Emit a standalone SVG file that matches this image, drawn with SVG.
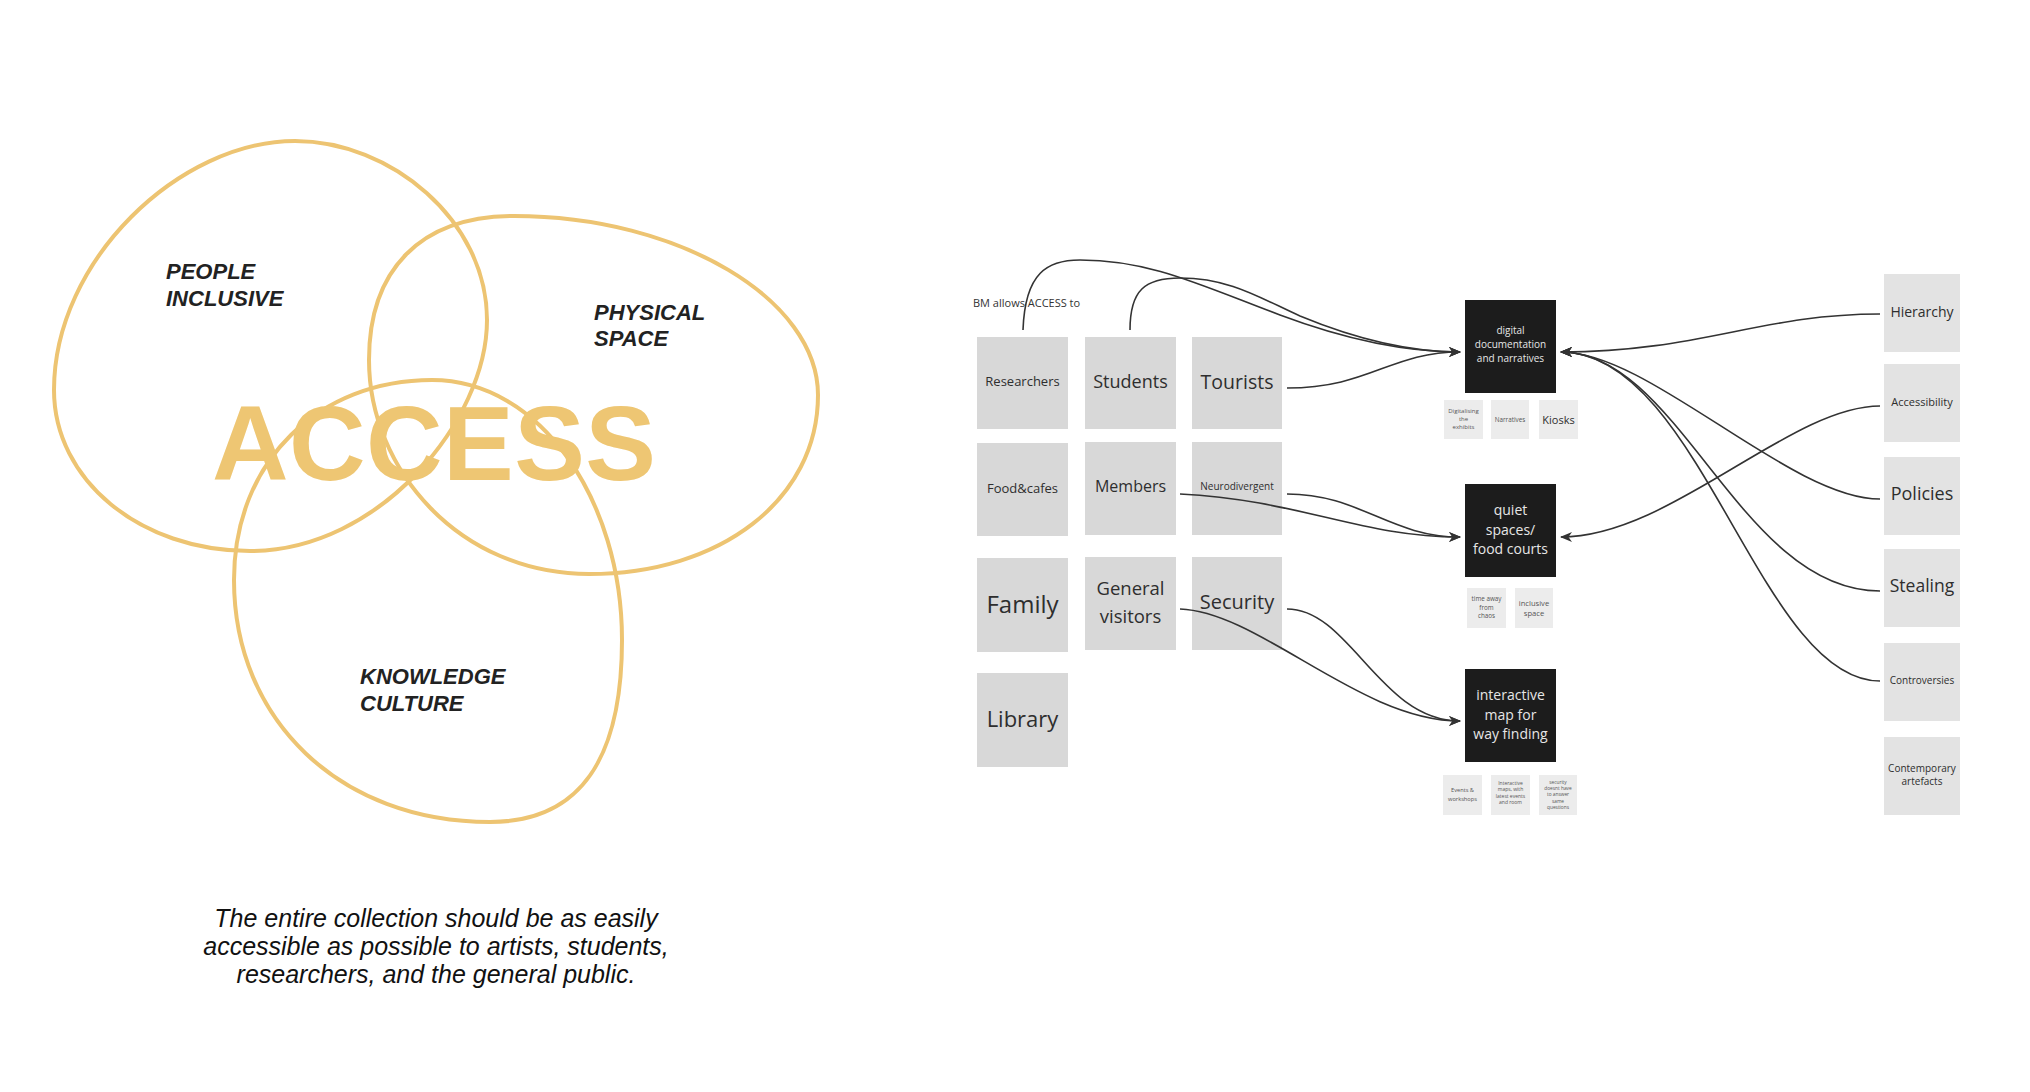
<svg xmlns="http://www.w3.org/2000/svg" width="2030" height="1092" viewBox="0 0 2030 1092">
<style>
.venn{fill:none;stroke:#EDC472;stroke-width:4}
.vl{font-family:"Liberation Sans",Arial,sans-serif;font-weight:bold;font-style:italic;font-size:22px;fill:#222}
.big{font-family:"Liberation Sans",Arial,sans-serif;font-weight:bold;font-size:106px;fill:#EEC673}
.cap{font-family:"Liberation Sans",Arial,sans-serif;font-style:italic;font-size:25px;fill:#111;text-anchor:middle}
.g{fill:#d8d8d8}
.r{fill:#e3e3e3}
.s{fill:#ececec}
.d{fill:#1c1c1c}
.t{font-family:"Open Sans","Noto Sans",sans-serif;fill:#2e2e2e;text-anchor:middle;dominant-baseline:central}
.w{font-family:"Open Sans","Noto Sans",sans-serif;fill:#e6e6e6;text-anchor:middle}
.st{font-family:"Open Sans","Noto Sans",sans-serif;fill:#555;text-anchor:middle}
.c{fill:none;stroke:#333;stroke-width:1.6;marker-end:url(#arr)}
</style>
<defs>
<marker id="arr" viewBox="0 0 12 10" refX="11" refY="5" markerWidth="12" markerHeight="10" markerUnits="userSpaceOnUse" orient="auto">
<path d="M0,0 L12,5 L0,10 L3.5,5 Z" fill="#333"/>
</marker>
</defs>
<rect width="2030" height="1092" fill="#ffffff"/>

<g id="venn">
<path class="venn" d="M295,141 C390,141 487,220 487,320 C487,420 380,551 250,551 C140,551 54,480 54,390 C54,260 180,141 295,141 Z"/>
<path class="venn" d="M514,216 C680,216 818,300 818,395 C818,500 720,574 589,574 C460,574 369,470 369,360 C369,270 420,216 514,216 Z"/>
<path class="venn" d="M432,380 C540,380 622,500 622,640 C622,760 580,822 490,822 C340,822 234,720 234,580 C234,460 320,380 432,380 Z"/>
<text class="big" x="212" y="480" textLength="444">ACCESS</text>
<text class="vl" x="166" y="279">PEOPLE</text>
<text class="vl" x="166" y="306">INCLUSIVE</text>
<text class="vl" x="594" y="320">PHYSICAL</text>
<text class="vl" x="594" y="346">SPACE</text>
<text class="vl" x="360" y="684">KNOWLEDGE</text>
<text class="vl" x="360" y="711">CULTURE</text>
</g>

<g id="caption">
<text class="cap" x="436" y="927">The entire collection should be as easily</text>
<text class="cap" x="436" y="955">accessible as possible to artists, students,</text>
<text class="cap" x="436" y="983">researchers, and the general public.</text>
</g>

<g id="title"><text x="973" y="307" font-family="Open Sans, sans-serif" font-size="11" fill="#333">BM allows ACCESS to</text></g>

<g id="researchers"><rect class="g" x="977" y="337" width="91" height="92"/><text class="t" x="1022.5" y="381" font-size="13">Researchers</text></g>
<g id="students"><rect class="g" x="1085" y="337" width="91" height="92"/><text class="t" x="1130.5" y="381" font-size="18">Students</text></g>
<g id="tourists"><rect class="g" x="1192" y="337" width="90" height="92"/><text class="t" x="1237" y="381" font-size="19.5">Tourists</text></g>
<g id="foodcafes"><rect class="g" x="977" y="443" width="91" height="93"/><text class="t" x="1022.5" y="488" font-size="13">Food&amp;cafes</text></g>
<g id="members"><rect class="g" x="1085" y="442" width="91" height="93"/><text class="t" x="1130.5" y="486" font-size="16">Members</text></g>
<g id="neurodivergent"><rect class="g" x="1192" y="442" width="90" height="93"/><text class="t" x="1237" y="486" font-size="10">Neurodivergent</text></g>
<g id="family"><rect class="g" x="977" y="558" width="91" height="94"/><text class="t" x="1022.5" y="603" font-size="24">Family</text></g>
<g id="general-visitors"><rect class="g" x="1085" y="557" width="91" height="93"/><text class="t" x="1130.5" y="587" font-size="18.5">General</text><text class="t" x="1130.5" y="615" font-size="18.5">visitors</text></g>
<g id="security"><rect class="g" x="1192" y="557" width="90" height="93"/><text class="t" x="1237" y="601" font-size="20">Security</text></g>
<g id="library"><rect class="g" x="977" y="673" width="91" height="94"/><text class="t" x="1022.5" y="718" font-size="22">Library</text></g>

<g id="digital"><rect class="d" x="1465" y="300" width="91" height="93"/>
<text class="w" x="1510.5" y="334" font-size="10">digital</text><text class="w" x="1510.5" y="348" font-size="10">documentation</text><text class="w" x="1510.5" y="362" font-size="10">and narratives</text></g>
<g id="digitalising"><rect class="s" x="1444" y="400" width="39" height="39"/><text class="st" x="1463.5" y="413" font-size="6">Digitalising</text><text class="st" x="1463.5" y="421" font-size="6">the</text><text class="st" x="1463.5" y="429" font-size="6">exhibits</text></g>
<g id="narratives"><rect class="s" x="1491" y="400" width="38" height="39"/><text class="st" x="1510" y="421.5" font-size="6.3">Narratives</text></g>
<g id="kiosks"><rect class="s" x="1539" y="400" width="39" height="39"/><text class="t" x="1558.5" y="419" font-size="11">Kiosks</text></g>

<g id="quiet"><rect class="d" x="1465" y="484" width="91" height="93"/>
<text class="w" x="1510.5" y="515" font-size="14">quiet</text><text class="w" x="1510.5" y="535" font-size="14">spaces/</text><text class="w" x="1510.5" y="554" font-size="14">food courts</text></g>
<g id="time-away"><rect class="s" x="1467" y="588" width="39" height="40"/><text class="st" x="1486.5" y="601" font-size="6.3">time away</text><text class="st" x="1486.5" y="609.5" font-size="6.3">from</text><text class="st" x="1486.5" y="618" font-size="6.3">chaos</text></g>
<g id="inclusive-space"><rect class="s" x="1515" y="588" width="38" height="40"/><text class="st" x="1534" y="606" font-size="7.6">inclusive</text><text class="st" x="1534" y="616" font-size="7.6">space</text></g>

<g id="map"><rect class="d" x="1465" y="669" width="91" height="93"/>
<text class="w" x="1510.5" y="700" font-size="14">interactive</text><text class="w" x="1510.5" y="720" font-size="14">map for</text><text class="w" x="1510.5" y="739" font-size="14">way finding</text></g>
<g id="events"><rect class="s" x="1443" y="775" width="39" height="40"/><text class="st" x="1462.5" y="792" font-size="5.7">Events &amp;</text><text class="st" x="1462.5" y="801" font-size="5.7">workshops</text></g>
<g id="interactive-maps"><rect class="s" x="1491" y="775" width="39" height="40"/><text class="st" x="1510.5" y="785" font-size="5">Interactive</text><text class="st" x="1510.5" y="791.3" font-size="5">maps, with</text><text class="st" x="1510.5" y="797.6" font-size="5">latest events</text><text class="st" x="1510.5" y="804" font-size="5">and room</text></g>
<g id="security-answers"><rect class="s" x="1539" y="775" width="38" height="40"/><text class="st" x="1558" y="784" font-size="4.8">security</text><text class="st" x="1558" y="790.2" font-size="4.8">doesnt have</text><text class="st" x="1558" y="796.4" font-size="4.8">to answer</text><text class="st" x="1558" y="802.6" font-size="4.8">same</text><text class="st" x="1558" y="808.8" font-size="4.8">questions</text></g>

<g id="hierarchy"><rect class="r" x="1884" y="274" width="76" height="78"/><text class="t" x="1922" y="311" font-size="14">Hierarchy</text></g>
<g id="accessibility"><rect class="r" x="1884" y="364" width="76" height="78"/><text class="t" x="1922" y="401" font-size="11">Accessibility</text></g>
<g id="policies"><rect class="r" x="1884" y="457" width="76" height="78"/><text class="t" x="1922" y="493" font-size="18">Policies</text></g>
<g id="stealing"><rect class="r" x="1884" y="549" width="76" height="78"/><text class="t" x="1922" y="585" font-size="17.5">Stealing</text></g>
<g id="controversies"><rect class="r" x="1884" y="643" width="76" height="78"/><text class="t" x="1922" y="680" font-size="10">Controversies</text></g>
<g id="contemporary"><rect class="r" x="1884" y="737" width="76" height="78"/><text class="t" x="1922" y="768" font-size="10">Contemporary</text><text class="t" x="1922" y="781" font-size="10">artefacts</text></g>

<g id="connectors">
<path class="c" d="M1023,330 C1025,272 1048,260 1080,260 C1150,260 1200,285 1280,315 C1360,345 1420,352 1460,352"/>
<path class="c" d="M1130,330 C1130,290 1145,278 1180,278 C1230,278 1260,298 1300,316 C1370,345 1420,352 1460,352"/>
<path class="c" d="M1287,388 C1370,388 1390,352 1460,352"/>
<path class="c" d="M1287,494 C1360,494 1390,537 1460,537"/>
<path class="c" d="M1180,494 C1300,500 1360,537 1460,537"/>
<path class="c" d="M1287,609 C1350,609 1380,721 1460,721"/>
<path class="c" d="M1180,609 C1260,612 1360,721 1460,721"/>
<path class="c" d="M1880,314 C1760,314 1700,352 1561,352"/>
<path class="c" d="M1880,499 C1790,499 1650,352 1561,352"/>
<path class="c" d="M1880,591 C1740,591 1680,352 1561,352"/>
<path class="c" d="M1880,681 C1760,681 1700,352 1561,352"/>
<path class="c" d="M1880,406 C1790,406 1670,537 1561,537"/>
</g>
</svg>
